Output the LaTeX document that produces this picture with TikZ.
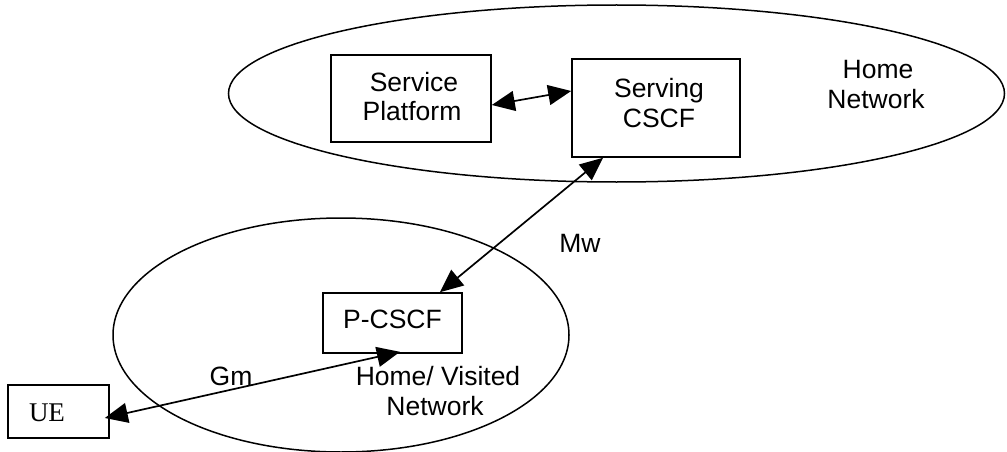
\documentclass[tikz,border=0pt]{standalone}
\usepackage{fontspec}
\setmainfont{Liberation Sans}
\newfontfamily\serifUE{Liberation Serif}
\usetikzlibrary{arrows.meta,shapes.geometric}
\tikzset{
  boxnode/.style={draw,line width=1.6pt,inner sep=0pt,minimum width=#1},
  netell/.style={draw,ellipse,line width=1.5pt,inner sep=0pt},
  lbl/.style={anchor=base,inner sep=0pt,font=\fontsize{26.5}{31}\selectfont},
  link/.style={line width=1.7pt,{Triangle[length=23pt,width=20pt]}-{Triangle[length=23pt,width=20pt]}}
}
\begin{document}
\begin{tikzpicture}[x=1pt,y=-1pt]
\useasboundingbox (0,0) rectangle (1007,452);
% networks
\node[netell,minimum width=776pt,minimum height=177pt] (home) at (616.5,93.5) {};
\node[netell,minimum width=456pt,minimum height=234pt] (visited) at (341,335) {};
% boxes
\node[boxnode=160pt,minimum height=87pt] (sp) at (411,98.5) {};
\node[boxnode=168pt,minimum height=98pt] (scscf) at (656,108) {};
\node[boxnode=139pt,minimum height=60pt] (pcscf) at (392.5,323) {};
\node[boxnode=101pt,minimum height=53pt] (ue) at (58.5,411.5) {};
% texts
\node[lbl] (t1) at (414,92) {Service};
\node[lbl] (t2) at (412,121) {Platform};
\node[lbl] (t3) at (659,97) {Serving};
\node[lbl] (t4) at (659,127) {CSCF};
\node[lbl] (t5) at (878,79) {Home};
\node[lbl] (t6) at (876,108) {Network};
\node[lbl] (t7) at (580,252) {Mw};
\node[lbl] (t8) at (231,385) {Gm};
\node[lbl] (t9) at (392.5,328) {P-CSCF};
\node[lbl] (t10) at (438,385) {Home/ Visited};
\node[lbl] (t11) at (435,415) {Network};
\node[anchor=base,inner sep=0pt,font=\serifUE\fontsize{27}{31}\selectfont] (t12) at (47,421) {UE};
% connectors
\draw[link] ([yshift=-6.5pt]sp.east) -- ([yshift=17pt]scscf.west);
\draw[link] ([xshift=-53pt]scscf.south) -- ([xshift=47.5pt]pcscf.north);
\draw[link] ([xshift=-5pt,yshift=-6.5pt]ue.east) -- ([xshift=7.5pt,yshift=2pt]pcscf.south);
\end{tikzpicture}
\end{document}
